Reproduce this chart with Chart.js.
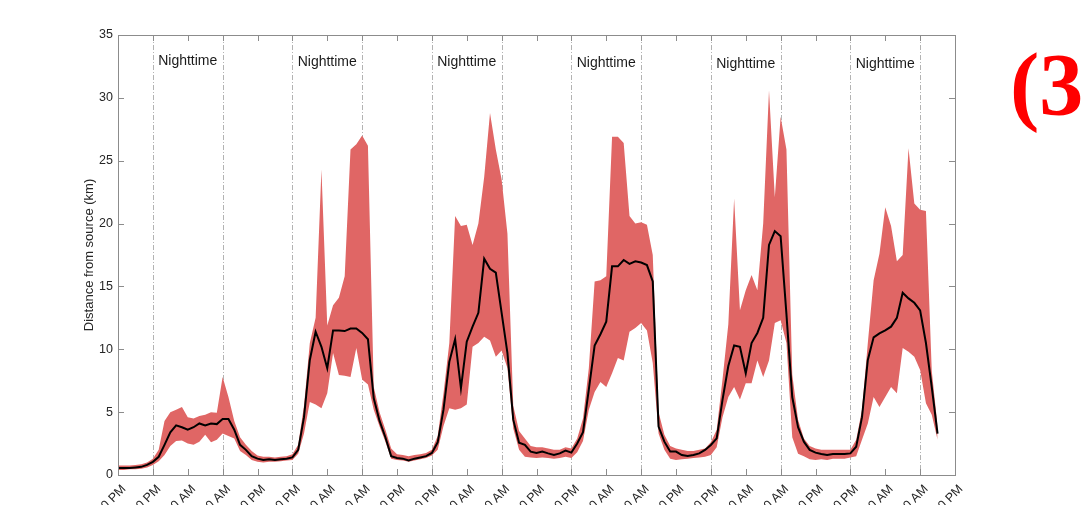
<!DOCTYPE html>
<html>
<head>
<meta charset="utf-8">
<script src="https://cdn.jsdelivr.net/npm/chart.js@4.4.1/dist/chart.umd.min.js"></script>
<style>
  html, body { margin: 0; padding: 0; background: #fff; overflow: hidden; }
  #wrap { position: relative; width: 1082px; height: 505px; }
</style>
</head>
<body>
<div id="wrap"><canvas id="distChart"></canvas></div>
<script>
// Hourly median distance from source (km)
const medianKm = [
  0.55, 0.55, 0.55, 0.6, 0.65, 0.8, 1.05, 1.45, 2.4, 3.4, 3.95, 3.8, 3.6, 3.8, 4.1, 3.95, 4.1, 4.05, 4.45, 4.45,
  3.6, 2.4, 2.0, 1.5, 1.3, 1.2, 1.25, 1.2, 1.25, 1.3, 1.4, 2.0, 4.6, 9.15, 11.4, 10.2, 8.5, 11.5, 11.5, 11.45,
  11.65, 11.65, 11.3, 10.8, 6.1, 4.3, 3.0, 1.5, 1.35, 1.3, 1.15, 1.3, 1.4, 1.5, 1.75, 2.6, 5.2, 9.0, 10.8, 6.9,
  10.6, 11.8, 12.9, 17.2, 16.4, 16.1, 12.9, 9.7, 4.4, 2.57, 2.4, 1.86, 1.75, 1.86, 1.72, 1.6, 1.72, 1.94, 1.78, 2.5,
  3.4, 6.8, 10.3, 11.2, 12.2, 16.6, 16.6, 17.1, 16.8, 17.0, 16.9, 16.7, 15.4, 3.85, 2.65, 1.86, 1.86, 1.59, 1.51, 1.59,
  1.72, 1.99, 2.39, 2.92, 5.97, 8.67, 10.3, 10.2, 8.09, 10.5, 11.3, 12.5, 18.3, 19.4, 19.0, 12.8, 6.2, 3.8, 2.65, 2.0,
  1.78, 1.67, 1.59, 1.67, 1.67, 1.67, 1.72, 2.25, 4.6, 9.15, 10.95, 11.27, 11.5, 11.8, 12.5, 14.5, 14.05, 13.7, 13.1, 10.5,
  7.0, 3.3
];

// Upper edge of the shaded band
const upperKm = [
  0.75, 0.75, 0.75, 0.8, 0.85, 1.0, 1.3, 2.0, 4.3, 5.0, 5.2, 5.4, 4.6, 4.5, 4.7, 4.8, 5.0, 4.95, 7.8, 6.2,
  4.3, 3.0, 2.4, 1.9, 1.55, 1.45, 1.45, 1.4, 1.45, 1.5, 1.65, 2.4, 5.5, 10.5, 12.5, 24.3, 11.9, 13.5, 14.1, 15.8,
  25.9, 26.3, 27.0, 26.2, 7.0, 5.0, 3.6, 2.1, 1.65, 1.6, 1.5, 1.6, 1.65, 1.75, 2.0, 3.1, 6.5, 10.5, 20.6, 19.8,
  19.9, 18.3, 20.0, 23.7, 28.8, 25.9, 23.5, 19.2, 5.5, 3.5, 2.9, 2.3, 2.2, 2.2, 2.1, 2.0, 2.0, 2.2, 2.1, 2.9,
  4.5, 8.5, 15.4, 15.5, 15.8, 26.9, 26.9, 26.4, 20.6, 20.0, 20.1, 19.9, 17.5, 5.0, 3.2, 2.3, 2.1, 2.0, 1.9, 1.9,
  2.0, 2.1, 2.6, 3.6, 7.6, 12.0, 22.0, 13.1, 14.7, 15.9, 14.7, 20.0, 30.6, 22.1, 28.5, 25.9, 8.0, 4.4, 2.9, 2.3,
  2.1, 2.0, 2.0, 2.0, 2.0, 2.0, 2.0, 2.8, 5.2, 10.5, 15.5, 17.6, 21.3, 19.8, 17.0, 17.5, 26.0, 21.6, 21.1, 21.0,
  8.3, 3.9
];

// Lower edge of the shaded band
const lowerKm = [
  0.4, 0.4, 0.45, 0.45, 0.5, 0.6, 0.8, 1.1, 1.6, 2.3, 2.7, 2.75, 2.5, 2.4, 2.65, 3.2, 2.6, 2.8, 3.3, 3.1,
  2.9, 1.9, 1.6, 1.2, 1.05, 1.0, 1.05, 1.05, 1.1, 1.15, 1.2, 1.7, 3.3, 5.8, 5.6, 5.3, 6.5, 9.7, 7.96, 7.9,
  7.8, 10.1, 7.6, 7.2, 5.2, 3.85, 2.65, 1.3, 1.2, 1.15, 1.05, 1.15, 1.25, 1.35, 1.55, 2.0, 3.9, 5.3, 5.2, 5.3,
  5.6, 10.2, 10.5, 11.0, 10.7, 9.4, 9.9, 8.5, 3.7, 2.0, 1.45, 1.4, 1.35, 1.4, 1.35, 1.3, 1.35, 1.45, 1.35, 1.8,
  2.7, 5.2, 6.6, 7.4, 7.0, 8.1, 9.3, 9.1, 11.4, 11.7, 12.1, 11.5, 8.9, 3.3, 2.0, 1.3, 1.2, 1.25, 1.3, 1.35,
  1.4, 1.45, 1.6, 2.2, 4.6, 6.2, 7.0, 6.0, 7.3, 7.3, 9.1, 7.8, 9.1, 12.1, 12.3, 10.5, 3.0, 1.7, 1.5, 1.25,
  1.2, 1.25, 1.2, 1.3, 1.3, 1.3, 1.4, 1.5, 2.8, 4.1, 6.2, 5.4, 6.2, 7.0, 6.5, 10.1, 9.8, 9.4, 8.35, 5.7,
  4.8, 2.8
];

// x tick labels, one every 6 hours
const tickLabels = [
  '12:00 PM', '6:00 PM', '12:00 AM', '6:00 AM',
  '12:00 PM', '6:00 PM', '12:00 AM', '6:00 AM',
  '12:00 PM', '6:00 PM', '12:00 AM', '6:00 AM',
  '12:00 PM', '6:00 PM', '12:00 AM', '6:00 AM',
  '12:00 PM', '6:00 PM', '12:00 AM', '6:00 AM',
  '12:00 PM', '6:00 PM', '12:00 AM', '6:00 AM',
  '12:00 PM'
];

// Night periods (hours from the first tick): start and end
const nightStart = [6, 30, 54, 78, 102, 126];
const nightEnd = [18, 42, 66, 90, 114, 138];
const nightLabel = 'Nighttime';
const panelTag = '(3)';

const hours = medianKm.map((_, i) => i);
const FONT = '"Liberation Sans", Arial, sans-serif';
const AXIS_GRAY = '#8c8c8c';

// Draws the MATLAB-like frame: night lines, inward ticks, box, labels
const framePlugin = {
    id: 'frame',
    beforeDatasetsDraw(chart) {
        const { ctx, chartArea: a, scales: { x } } = chart;
        ctx.save();
        ctx.strokeStyle = '#b3b3b3';
        ctx.lineWidth = 1;
        ctx.setLineDash([5, 2, 1, 2]);
        nightStart.concat(nightEnd).forEach(h => {
            const px = Math.round(x.getPixelForValue(h)) + 0.5;
            ctx.beginPath();
            ctx.moveTo(px, a.top);
            ctx.lineTo(px, a.bottom);
            ctx.stroke();
        });
        ctx.restore();
    },
    afterDraw(chart) {
        const { ctx, chartArea: a, scales: { x, y } } = chart;
        ctx.save();

        // inward ticks
        ctx.strokeStyle = AXIS_GRAY;
        ctx.lineWidth = 1;
        const tl = 6;
        x.ticks.forEach(t => {
            const px = Math.round(x.getPixelForValue(t.value)) + 0.5;
            ctx.beginPath();
            ctx.moveTo(px, a.bottom); ctx.lineTo(px, a.bottom - tl);
            ctx.moveTo(px, a.top); ctx.lineTo(px, a.top + tl);
            ctx.stroke();
        });
        y.ticks.forEach(t => {
            const py = Math.round(y.getPixelForValue(t.value)) + 0.5;
            ctx.beginPath();
            ctx.moveTo(a.left, py); ctx.lineTo(a.left + tl, py);
            ctx.moveTo(a.right, py); ctx.lineTo(a.right - tl, py);
            ctx.stroke();
        });

        // box
        ctx.strokeRect(Math.round(a.left) + 0.5, Math.round(a.top) + 0.5,
            Math.round(a.right - a.left), Math.round(a.bottom - a.top));

        // night labels
        ctx.fillStyle = '#1a1a1a';
        ctx.font = '14px ' + FONT;
        ctx.textAlign = 'center';
        ctx.textBaseline = 'middle';
        nightStart.forEach((s, i) => {
            const cx = x.getPixelForValue((s + nightEnd[i]) / 2);
            ctx.fillText(nightLabel, cx, 61 + i * 0.7);
        });

        // panel tag
        ctx.fillStyle = '#ff0000';
        ctx.font = 'bold 88px "Liberation Serif", "Times New Roman", serif';
        ctx.textAlign = 'left';
        ctx.textBaseline = 'alphabetic';
        ctx.fillText(panelTag, 1010, 114);
        ctx.restore();
    }
};

function createDistanceChart() {
    const ctx = document.getElementById('distChart');

    new Chart(ctx, {
        type: 'line',
        data: {
            labels: hours,
            datasets: [
                {
                    label: 'Median',
                    data: medianKm,
                    borderColor: '#000000',
                    borderWidth: 2,
                    pointRadius: 0,
                    tension: 0,
                    fill: false,
                    order: 0
                },
                {
                    label: 'Upper',
                    data: upperKm,
                    borderWidth: 0,
                    borderColor: 'rgba(0,0,0,0)',
                    backgroundColor: 'rgb(224, 102, 101)',
                    pointRadius: 0,
                    tension: 0,
                    fill: '+1',
                    order: 1
                },
                {
                    label: 'Lower',
                    data: lowerKm,
                    borderWidth: 0,
                    borderColor: 'rgba(0,0,0,0)',
                    pointRadius: 0,
                    tension: 0,
                    fill: false,
                    order: 2
                }
            ]
        },
        options: {
            responsive: true,
            maintainAspectRatio: false,
            animation: false,
            layout: {
                padding: { left: 82, right: 127, top: 35, bottom: 0 }
            },
            plugins: {
                legend: { display: false },
                tooltip: { enabled: false }
            },
            scales: {
                x: {
                    type: 'linear',
                    min: 0,
                    max: 144,
                    grid: { display: false, drawTicks: false },
                    border: { display: false },
                    ticks: {
                        stepSize: 6,
                        autoSkip: false,
                        minRotation: 45,
                        maxRotation: 45,
                        padding: 7,
                        labelOffset: 6,
                        color: '#262626',
                        font: { family: FONT, size: 12.5 },
                        callback: function(value) {
                            return tickLabels[Math.round(value / 6)];
                        }
                    },
                    afterFit: function(scale) { scale.height = 30; }
                },
                y: {
                    min: 0,
                    max: 35,
                    grid: { display: false, drawTicks: false },
                    border: { display: false },
                    ticks: {
                        stepSize: 5,
                        padding: 5,
                        color: '#262626',
                        font: { family: FONT, size: 12.5 }
                    },
                    title: {
                        display: true,
                        text: 'Distance from source (km)',
                        color: '#262626',
                        padding: 0,
                        font: { family: FONT, size: 13 }
                    },
                    afterFit: function(scale) { scale.width = 36; }
                }
            }
        },
        plugins: [framePlugin]
    });
}

window.addEventListener('load', function() {
    createDistanceChart();
});
</script>
</body>
</html>
